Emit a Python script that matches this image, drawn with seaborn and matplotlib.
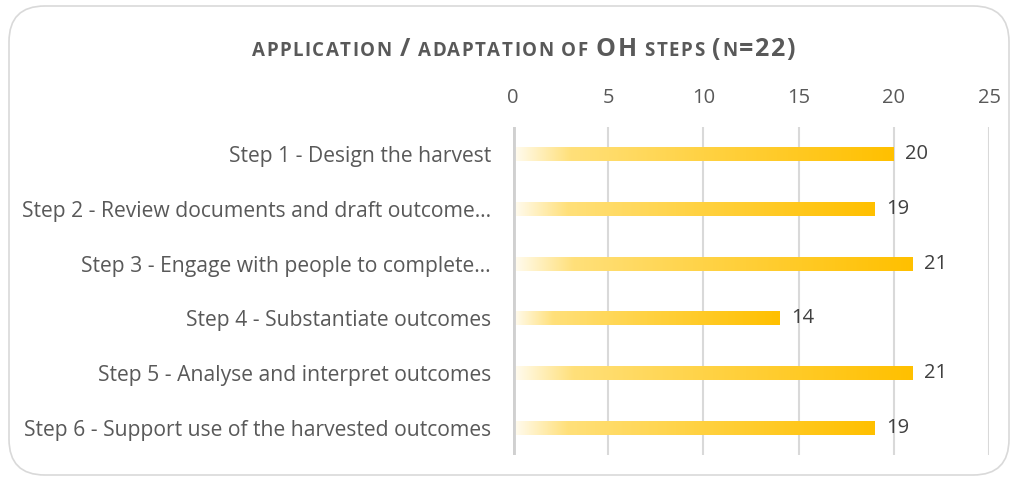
import numpy as np
import pandas as pd
import matplotlib
matplotlib.use("Agg")
import matplotlib.pyplot as plt
import seaborn as sns
from matplotlib.colors import LinearSegmentedColormap
from matplotlib.patches import FancyBboxPatch

# data
steps = [
    "Step 1 - Design the harvest",
    "Step 2 - Review documents and draft outcome…",
    "Step 3 - Engage with people to complete…",
    "Step 4 - Substantiate outcomes",
    "Step 5 - Analyse and interpret outcomes",
    "Step 6 - Support use of the harvested outcomes",
]
counts = [20, 19, 21, 14, 21, 19]
x_ticks = [0, 5, 10, 15, 20, 25]

df = pd.DataFrame({"step": steps, "count": counts})

sns.set_style("white")
plt.rcParams["font.family"] = ["Open Sans", "DejaVu Sans"]

txt_col = "#595959"
grid_col = "#D9D9D9"

fig = plt.figure(figsize=(10.21, 4.79), dpi=100)
ax = fig.add_axes([513 / 1021, 1 - 455 / 479, 476 / 1021, 328 / 479])

# rounded outer border
border = FancyBboxPatch((9 / 1021, 4 / 479), 1000 / 1021, 469 / 479,
                        boxstyle="round,pad=0,rounding_size=0.035",
                        transform=fig.transFigure, facecolor="none",
                        edgecolor=grid_col, linewidth=1.2, zorder=0,
                        mutation_aspect=1021 / 479)
fig.patches.append(border)

sns.barplot(data=df, x="count", y="step", orient="h", width=0.26,
            color="#FFC000", ax=ax, zorder=3)

# gradient fill: pale on the left, orange-yellow on the right
cmap = LinearSegmentedColormap.from_list(
    "gold", [(0, "#FFFCF2"), (0.15, "#FFE07A"), (0.5, "#FFD243"), (1, "#FFC000")])
grad = np.linspace(0, 1, 256).reshape(1, -1)
for p in ax.patches:
    x0, y0 = p.get_x(), p.get_y()
    w, h = p.get_width(), p.get_height()
    p.set_facecolor("none")
    p.set_edgecolor("none")
    im = ax.imshow(grad, cmap=cmap, extent=[x0, x0 + w, y0 + h, y0],
                   aspect="auto", zorder=3, interpolation="bilinear")
    im.set_clip_path(p)

ax.set_xlim(0, 25)
ax.set_ylim(5.5, -0.5)
ax.set_xticks(x_ticks)
ax.xaxis.tick_top()
ax.tick_params(axis="x", length=0, pad=14, labelsize=14.5, labelcolor=txt_col)
ax.tick_params(axis="y", length=0, pad=16, labelsize=15.2, labelcolor=txt_col)
ax.set_xlabel("")
ax.set_ylabel("")
for s in ax.spines.values():
    s.set_visible(False)

for t in x_ticks[1:]:
    ax.axvline(t, color=grid_col, linewidth=1.5, zorder=1)
ax.axvline(0, color="#D0D0D0", linewidth=3.5, zorder=4)

# value labels
for i, v in enumerate(counts):
    ax.text(v + 0.6, i, str(v), va="center", ha="left",
            fontsize=14.5, color="#404040", zorder=5)

# small-caps style title built from pieces, with extra letter spacing
pieces = [("APPLICATION ", 13.5), ("/", 18), (" ADAPTATION OF ", 13.5),
          ("OH", 18), (" STEPS ", 13.5), ("(", 18), ("N", 13.5), ("=22)", 18)]
track = 1.5
fig.canvas.draw()
renderer = fig.canvas.get_renderer()
texts = []
widths = []
for s, fs in pieces:
    for ch in s:
        t = fig.text(0, 1 - 56 / 479, ch, fontsize=fs, fontweight="bold",
                     color=txt_col, ha="left", va="baseline")
        texts.append(t)
        if ch == " ":
            widths.append(fs * 0.26 * 100 / 72 + track)
        else:
            widths.append(t.get_window_extent(renderer).width + track)
total = sum(widths) - track
x = 523 - total / 2
for t, w in zip(texts, widths):
    t.set_x(x / 1021)
    x += w

fig.savefig("out.png", dpi=100)
